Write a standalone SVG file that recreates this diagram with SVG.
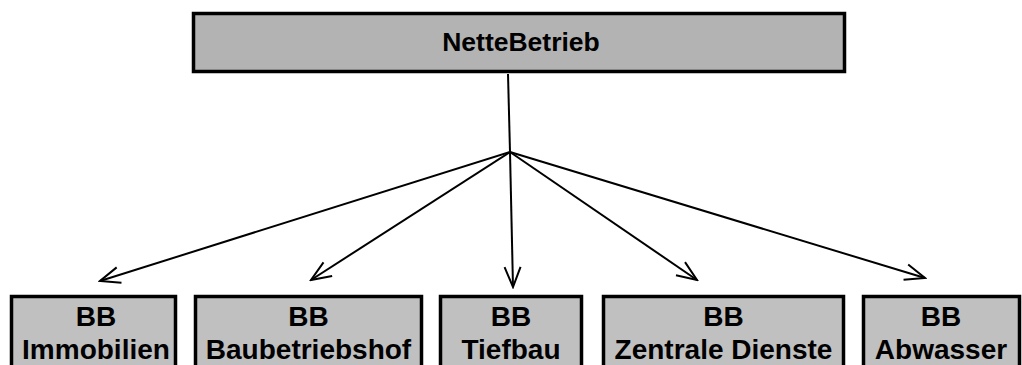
<svg xmlns="http://www.w3.org/2000/svg" width="1022" height="365" viewBox="0 0 1022 365">
<style>
.box{stroke:#000;stroke-width:3.5}
.top{fill:#b3b3b3}
.sub{fill:#c0c0c0}
text{font-family:"Liberation Sans",Arial,sans-serif;font-weight:bold;fill:#000;text-anchor:middle}
.t1{font-size:26.5px}
.t2{font-size:28px}
.c{stroke:#000;stroke-width:2;fill:none}
</style>
<defs>
<marker id="a" viewBox="0 0 24 24" refX="22" refY="12" markerWidth="24" markerHeight="24" markerUnits="userSpaceOnUse" orient="auto">
<path d="M2,4 L22,12 L2,20" fill="none" stroke="#000" stroke-width="2"/>
</marker>
</defs>
<rect width="1022" height="365" fill="#fff"/>
<g id="connectors">
<line class="c" x1="508" y1="74" x2="510" y2="152"/>
<line class="c" x1="510" y1="152" x2="100" y2="281" marker-end="url(#a)"/>
<line class="c" x1="510" y1="152" x2="311" y2="280" marker-end="url(#a)"/>
<line class="c" x1="510" y1="152" x2="513" y2="287" marker-end="url(#a)"/>
<line class="c" x1="510" y1="152" x2="697" y2="280" marker-end="url(#a)"/>
<line class="c" x1="510" y1="152" x2="925" y2="278" marker-end="url(#a)"/>
</g>
<g id="n0">
<rect class="box top" x="193.5" y="13.5" width="651" height="58"/>
<text class="t1" x="521" y="51">NetteBetrieb</text>
</g>
<g id="n1">
<rect class="box sub" x="11.5" y="296.5" width="164" height="90"/>
<text class="t2" x="96" y="326">BB</text>
<text class="t2" x="96" y="359">Immobilien</text>
</g>
<g id="n2">
<rect class="box sub" x="195.5" y="296.5" width="226" height="90"/>
<text class="t2" x="308.5" y="326">BB</text>
<text class="t2" x="308.5" y="359">Baubetriebshof</text>
</g>
<g id="n3">
<rect class="box sub" x="440.5" y="296.5" width="141" height="90"/>
<text class="t2" x="511" y="326">BB</text>
<text class="t2" x="511" y="359">Tiefbau</text>
</g>
<g id="n4">
<rect class="box sub" x="603.5" y="296.5" width="240" height="90"/>
<text class="t2" x="723.5" y="326">BB</text>
<text class="t2" x="723.5" y="359">Zentrale Dienste</text>
</g>
<g id="n5">
<rect class="box sub" x="863.5" y="296.5" width="156" height="90"/>
<text class="t2" x="941" y="326">BB</text>
<text class="t2" x="941" y="359">Abwasser</text>
</g>
</svg>
